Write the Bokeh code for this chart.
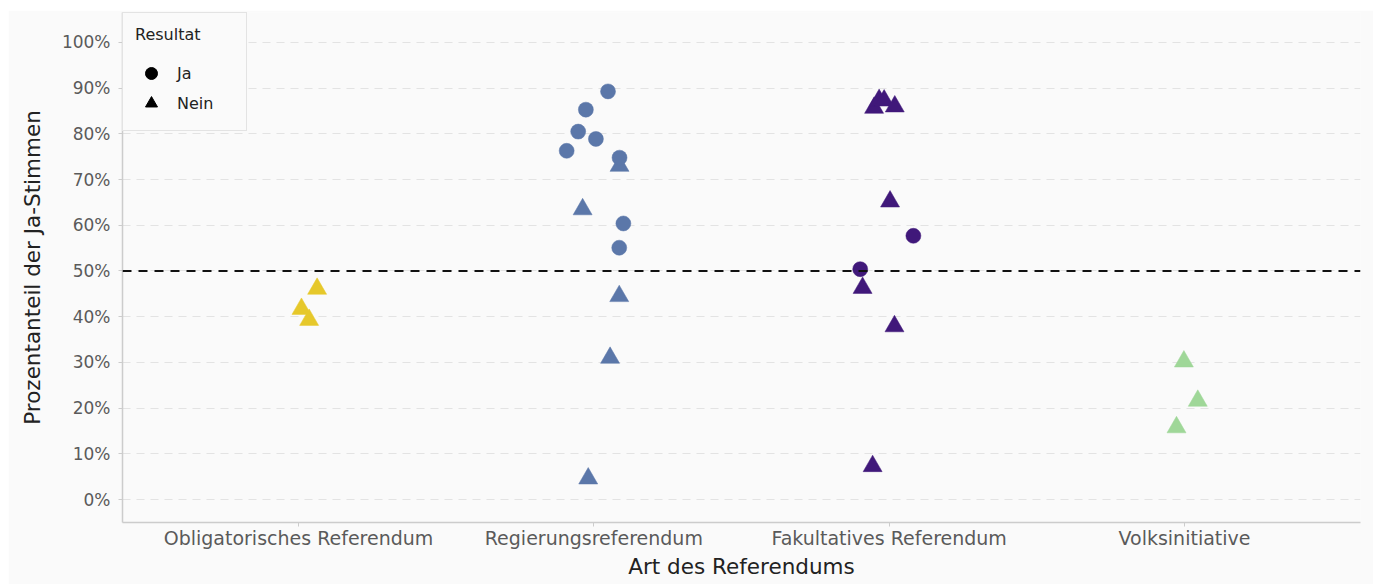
from bokeh.plotting import figure
from bokeh.models import (ColumnDataSource, FixedTicker, PrintfTickFormatter, Span,
                          Legend, LegendItem, Range1d, Spacer)
from bokeh.layouts import row, column
from bokeh.embed import file_html
from bokeh.resources import INLINE

# ---------------- data ----------------
categories = ["Obligatorisches Referendum", "Regierungsreferendum",
              "Fakultatives Referendum", "Volksinitiative"]
cat_colors = ["#e6c82b", "#5b77a9", "#40187a", "#9fd798"]

obligatorisch_pct = [46.1, 41.7, 39.3]
obligatorisch_res = ["Nein", "Nein", "Nein"]
obligatorisch_jit = [0.063, 0.010, 0.036]

regierung_pct = [63.5, 73.0, 44.5, 31.0, 4.6,
                 89.3, 85.3, 80.5, 78.9, 76.3, 74.8, 60.4, 55.1]
regierung_res = ["Nein"] * 5 + ["Ja"] * 8
regierung_jit = [-0.038, 0.087, 0.086, 0.055, -0.019,
                 0.048, -0.027, -0.053, 0.007, -0.092, 0.087, 0.100, 0.086]

fakultativ_pct = [85.7, 87.4, 87.3, 86.0, 65.2, 46.3, 37.9, 7.3, 57.7, 50.4]
fakultativ_res = ["Nein"] * 8 + ["Ja"] * 2
fakultativ_jit = [-0.051, -0.034, -0.017, 0.019, 0.003, -0.090, 0.018, -0.056, 0.082, -0.098]

volks_pct = [30.2, 21.6, 15.8]
volks_res = ["Nein", "Nein", "Nein"]
volks_jit = [-0.002, 0.045, -0.027]

y_ticks = [0, 10, 20, 30, 40, 50, 60, 70, 80, 90, 100]
threshold = 50
results = ["Ja", "Nein"]

# ---------------- build the table ----------------
groups = [(obligatorisch_pct, obligatorisch_res, obligatorisch_jit),
          (regierung_pct, regierung_res, regierung_jit),
          (fakultativ_pct, fakultativ_res, fakultativ_jit),
          (volks_pct, volks_res, volks_jit)]

marker_of = {"Ja": "circle", "Nein": "triangle"}
size_of = {"Ja": 15, "Nein": 19}

rows = []
for ci, (pcts, res, jit) in enumerate(groups):
    for v, r, j in zip(pcts, res, jit):
        rows.append((0 if r == "Nein" else 1, ci + j, v, cat_colors[ci], marker_of[r], size_of[r]))
rows.sort(key=lambda t: t[0])
src = ColumnDataSource(dict(
    x=[t[1] for t in rows], y=[t[2] for t in rows], color=[t[3] for t in rows],
    marker=[t[4] for t in rows], size=[t[5] for t in rows]))

FONT = "DejaVu Sans"
BG = "#fafafa"

p = figure(width=1365, height=574, output_backend="svg", toolbar_location=None,
           x_range=Range1d(-0.596, 3.596), y_range=Range1d(-5.03, 106.56),
           min_border_left=114, min_border_right=13, min_border_top=2, min_border_bottom=62)
p.background_fill_color = BG
p.border_fill_color = BG
p.outline_line_color = None

p.scatter(x="x", y="y", source=src, marker="marker", size="size",
          fill_color="color", line_color="color", line_width=0.5)

p.add_layout(Span(location=threshold, dimension="width", line_color="#111111",
                  line_width=2, line_dash="9 7"))

# grids
p.xgrid.grid_line_color = None
p.ygrid.grid_line_color = "#e3e3e3"
p.ygrid.grid_line_dash = "8 6"
p.ygrid.grid_line_width = 1
p.ygrid.ticker = FixedTicker(ticks=y_ticks)

# x axis
p.xaxis.ticker = FixedTicker(ticks=list(range(len(categories))))
p.xaxis.major_label_overrides = {i: c for i, c in enumerate(categories)}
p.xaxis.axis_label = "Art des Referendums"
# y axis
p.yaxis.ticker = FixedTicker(ticks=y_ticks)
p.yaxis.formatter = PrintfTickFormatter(format="%d%%")
p.yaxis.axis_label = "Prozentanteil der Ja-Stimmen"

for ax in (p.xaxis, p.yaxis):
    ax.axis_line_color = "#cccccc"
    ax.axis_line_width = 1.5
    ax.major_tick_line_color = "#cccccc"
    ax.major_tick_in = 0
    ax.major_tick_out = 4
    ax.minor_tick_line_color = None
    ax.major_label_text_font = FONT
    ax.major_label_text_color = "#5a5a5a"
    ax.axis_label_text_font = FONT
    ax.axis_label_text_font_size = "21.5px"
    ax.axis_label_text_font_style = "normal"
    ax.axis_label_text_color = "#222222"

p.xaxis.major_label_text_font_size = "19px"
p.yaxis.major_label_text_font_size = "17px"
p.xaxis.major_label_standoff = 0
p.xaxis.axis_label_standoff = 2
p.yaxis.major_label_standoff = 8
p.yaxis.axis_label_standoff = 14

# legend (black markers, renderers without visible points)
nan = float("nan")
r_ja = p.scatter(x=[nan], y=[nan], marker="circle", color="black")
r_nein = p.scatter(x=[nan], y=[nan], marker="triangle", color="black")
legend = Legend(items=[LegendItem(label=results[0], renderers=[r_ja]),
                       LegendItem(label=results[1], renderers=[r_nein])],
                location="top_left", title="Resultat")
legend.margin = 0
legend.padding = 12
legend.title_text_font = FONT
legend.title_text_font_size = "16px"
legend.title_text_font_style = "normal"
legend.title_text_color = "#222222"
legend.title_standoff = 14
legend.label_text_font = FONT
legend.label_text_font_size = "16px"
legend.label_text_color = "#222222"
legend.glyph_width = 32
legend.glyph_height = 30
legend.spacing = 0
legend.label_standoff = 10
legend.label_width = 57
legend.background_fill_color = BG
legend.background_fill_alpha = 1
legend.border_line_color = "#cccccc"
legend.border_line_width = 1.5
p.add_layout(legend)

page = row(Spacer(width=8), column(Spacer(height=10), p))
open("out.html", "w").write(file_html(page, INLINE))
